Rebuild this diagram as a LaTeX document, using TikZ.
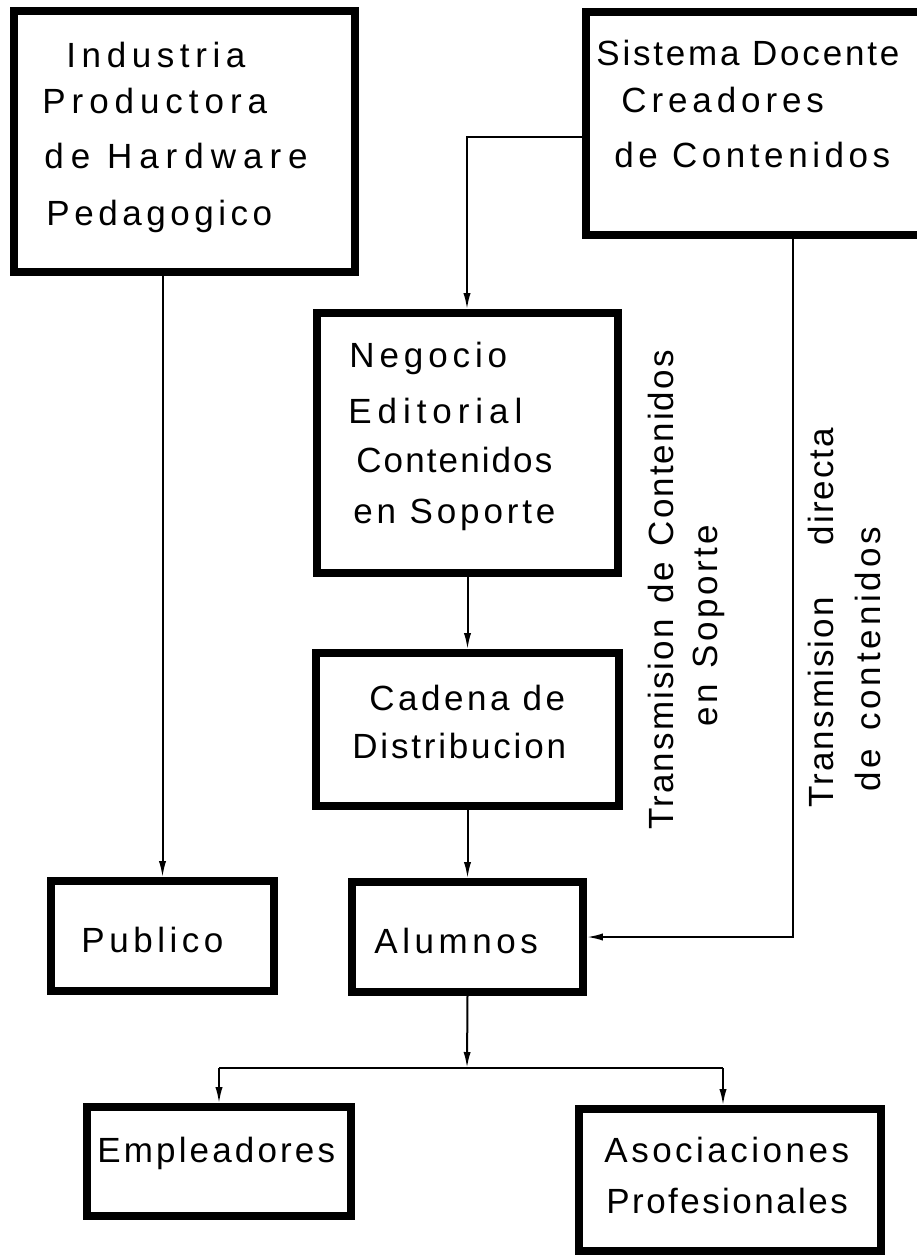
\documentclass[tikz,border=0pt]{standalone}
\usepackage{fontspec}
\setmainfont{Liberation Sans}
\usetikzlibrary{fit,arrows.meta}
\newcommand\lsp[2]{{\addfontfeature{LetterSpace=#1}#2}}
\tikzset{
  box/.style={draw, line width=3.8pt, inner sep=0pt, rectangle},
  lbl/.style={anchor=base west, inner sep=0pt, font=\fontsize{17.5}{21}\selectfont},
  vlbl/.style={lbl, rotate=90},
  conn/.style={line width=1pt},
  arr/.style={conn, -{Latex[length=8pt,width=3.6pt]}},
}
\begin{document}
\begin{tikzpicture}[x=0.5pt,y=-0.5pt]
\useasboundingbox (0,0) rectangle (916,1258);

% boxes
\node[box, fit={(14,11) (355,272)}] (ind) {};
\node[box, fit={(586,12) (935,235)}] (sis) {};
\node[box, fit={(317,313) (618,573)}] (neg) {};
\node[box, fit={(316,653) (619,806)}] (cad) {};
\node[box, fit={(352,882) (583,992)}] (alu) {};
\node[box, fit={(51,881) (274,991)}] (pub) {};
\node[box, fit={(87,1107) (351,1216)}] (emp) {};
\node[box, fit={(579,1109) (881,1251)}] (aso) {};

% texts in boxes
\node[lbl] (i1) at (66,67)  {\lsp{16}{Industria}};
\node[lbl] (i2) at (42,113) {\lsp{17}{Productora}};
\node[lbl] (i3) at (44,168) {\lsp{20}{de Hardware}};
\node[lbl] (i4) at (46,225) {\lsp{13}{Pedagogico}};

\node[lbl] (s1) at (596,65)  {\lsp{8}{Sistema Docente}};
\node[lbl] (s2) at (621,112) {\lsp{14}{Creadores}};
\node[lbl] (s3) at (614,167) {\lsp{13}{de Contenidos}};

\node[lbl] (n1) at (349,367) {\lsp{14}{Negocio}};
\node[lbl] (n2) at (348,423) {\lsp{17}{Editorial}};
\node[lbl] (n3) at (356,472) {\lsp{6}{Contenidos}};
\node[lbl] (n4) at (353,523) {\lsp{11}{en Soporte}};

\node[lbl] (d1) at (369,710) {\lsp{10}{Cadena de}};
\node[lbl] (d2) at (352,758) {\lsp{8}{Distribucion}};

\node[lbl] (a1) at (374,953) {\lsp{13}{Alumnos}};
\node[lbl] (p1) at (81,952)  {\lsp{13}{Publico}};
\node[lbl] (e1) at (97,1162) {\lsp{9}{Empleadores}};
\node[lbl] (q1) at (604,1162) {\lsp{10}{Asociaciones}};
\node[lbl] (q2) at (606,1213) {\lsp{7}{Profesionales}};

% rotated labels
\node[vlbl] (ra) at (673,830) {\lsp{6}{Transmision}\hspace{8pt}\lsp{6}{de}\hspace{8pt}\lsp{6}{Contenidos}};
\node[vlbl] (rb) at (717,727) {\lsp{10}{en}\hspace{8pt}\lsp{10}{Soporte}};
\node[vlbl] (rc) at (833,808) {\lsp{6}{Transmision}\hspace{26pt}\lsp{6}{directa}};
\node[vlbl] (rd) at (880,792) {\lsp{11}{de}\hspace{9pt}\lsp{11}{contenidos}};

% connectors
\coordinate (k1) at (467,137);
\coordinate (k2) at (793,937);
\coordinate (j)  at (467,1068);
\coordinate (k3) at (723,1068);

\draw[arr] (ind.south -| pub.north) -- (pub.north);
\draw[arr] (sis.west |- k1) -- (k1) -- (k1 |- neg.north);
\draw[arr] (neg.south) -- (cad.north);
\draw[arr] (cad.south) -- (cad.south |- alu.north);
\draw[arr] (sis.south -| k2) -- (k2) -- (alu.east);
\draw[arr] (alu.south) -- (j);
\draw[conn] (j -| emp.north) -- (k3);
\draw[arr] (j -| emp.north) -- (emp.north);
\draw[arr] (k3) -- (k3 |- aso.north);
\end{tikzpicture}
\end{document}
